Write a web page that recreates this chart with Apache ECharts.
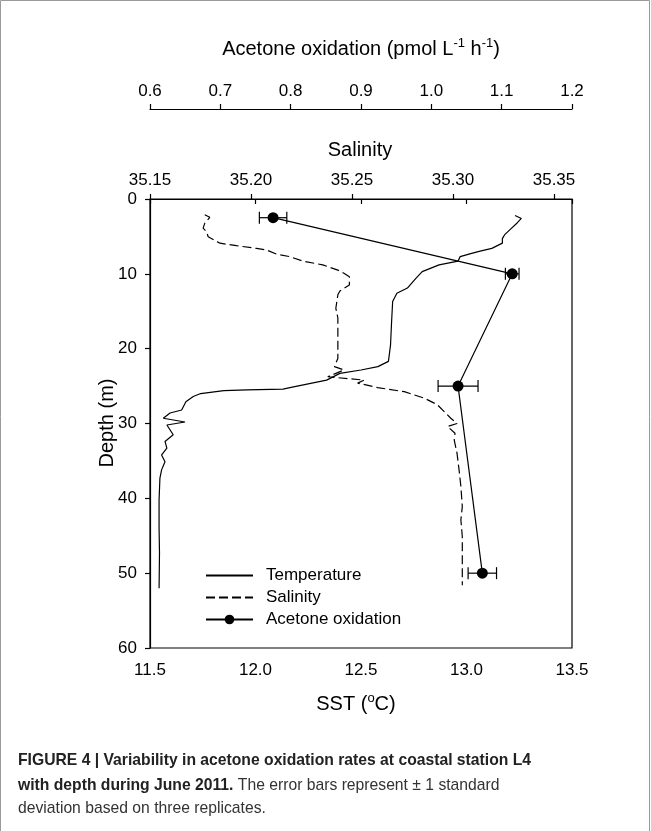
<!DOCTYPE html>
<html>
<head>
<meta charset="utf-8">
<script src="https://cdn.jsdelivr.net/npm/echarts@6/dist/echarts.min.js"></script>
<style>
html,body{margin:0;padding:0;background:#fff;}
#chart{width:651px;height:831px;}
</style>
</head>
<body>
<div id="chart"></div>
<script>
// ---- Data ----
const depthTicks = [0, 10, 20, 30, 40, 50, 60];
const sstTicks = [11.5, 12.0, 12.5, 13.0, 13.5];
const salinityTicks = [35.15, 35.20, 35.25, 35.30, 35.35];
const acetoneTicks = [0.6, 0.7, 0.8, 0.9, 1.0, 1.1, 1.2];

// Temperature profile: [SST (degC), depth (m)]
const temperatureProfile = [
  [13.23, 2.2], [13.26, 2.6], [13.24, 3.2], [13.21, 4.0], [13.18, 4.8], [13.17, 5.3], [13.17, 5.9],
  [13.12, 6.6], [13.06, 7.0], [13.02, 7.3], [12.97, 7.7], [12.96, 8.3], [12.87, 8.8], [12.79, 9.7],
  [12.76, 10.6], [12.72, 11.9], [12.67, 12.6], [12.65, 13.7], [12.645, 16.4], [12.64, 19.5],
  [12.63, 21.7], [12.58, 22.4], [12.50, 22.85], [12.40, 23.3], [12.337, 24.2], [12.18, 25.1],
  [12.13, 25.4], [11.96, 25.5], [11.85, 25.6], [11.74, 26.0], [11.705, 26.4], [11.67, 27.1],
  [11.65, 28.2], [11.595, 28.6], [11.563, 29.3], [11.666, 29.8], [11.58, 30.2], [11.61, 31.5],
  [11.571, 32.4], [11.58, 33.3], [11.555, 34.2], [11.571, 35.1], [11.555, 36.2], [11.547, 37.3],
  [11.543, 40.2], [11.543, 44.0], [11.545, 47.3], [11.543, 52.0]
];

// Salinity profile: [salinity, depth (m)]
const salinityProfile = [
  [35.1771, 2.1], [35.1796, 2.45], [35.1771, 3.25], [35.1763, 3.9], [35.178, 4.37], [35.1788, 5.04],
  [35.1846, 5.9], [35.1928, 6.24], [35.2027, 6.6], [35.2076, 6.8], [35.2125, 7.35], [35.2191, 7.7],
  [35.2257, 8.3], [35.2355, 8.8], [35.243, 9.5], [35.246, 9.93], [35.2487, 10.4], [35.2487, 11.5],
  [35.2440, 12.3], [35.243, 12.8], [35.2420, 14.6], [35.243, 15.9], [35.243, 18.6], [35.243, 21.3],
  [35.2413, 22.4], [35.246, 22.85], [35.238, 23.75], [35.256, 24.2], [35.2528, 24.6], [35.2627, 25.2],
  [35.2759, 25.75], [35.2857, 26.6], [35.2923, 27.5], [35.2989, 29.3], [35.302, 30.0], [35.2973, 30.4],
  [35.301, 31.3], [35.3006, 32.2], [35.302, 34.0], [35.303, 36.2], [35.3039, 38.4], [35.3046, 41.1],
  [35.3039, 42.9], [35.3046, 45.1], [35.3046, 49.6], [35.3046, 51.6]
];

// Acetone oxidation (pmol L-1 h-1)
const acetoneDepth = [2.5, 10, 25, 50];
const acetoneRate = [0.775, 1.115, 1.038, 1.0725];
const acetoneSD = [0.0195, 0.0097, 0.0284, 0.0202];

const legendNames = ['Temperature', 'Salinity', 'Acetone oxidation'];

const captionLine1 = 'FIGURE 4 | Variability in acetone oxidation rates at coastal station L4';
const captionLine2Bold = 'with depth during June 2011.';
const captionLine2 = ' The error bars represent \u00b1 1 standard';
const captionLine3 = 'deviation based on three replicates.';

// ---- Chart ----
const FONT = '"Liberation Sans", Arial, sans-serif';
const chart = echarts.init(document.getElementById('chart'), null, {renderer: 'canvas'});

const acetonePoints = acetoneDepth.map((d, i) => [acetoneRate[i], d]);
const acetoneErr = acetoneDepth.map((d, i) => [acetoneRate[i], d, acetoneSD[i]]);

// condensed caption: scale Liberation Sans horizontally
const CAP_SIZE = 17;
const mc = document.createElement('canvas').getContext('2d');
mc.font = 'bold ' + CAP_SIZE + 'px "Liberation Sans"';
const capScale = 513 / mc.measureText(captionLine1).width;

const lbl = {color: '#000', fontSize: 17, fontFamily: FONT};
const axLine = {show: true, lineStyle: {color: '#000', width: 1.2}};
const axTick = {show: true, length: 5, lineStyle: {color: '#000', width: 1.2}};
const TITLE = 20;

const option = {
  animation: false,
  backgroundColor: '#fff',
  grid: [
    {left: 150, top: 199, width: 422, height: 449, show: true, borderColor: '#000', borderWidth: 1.2, backgroundColor: 'transparent'},
    {left: 150, top: 199, width: 404, height: 449, show: false}
  ],
  xAxis: [
    {type: 'value', gridIndex: 0, position: 'bottom', min: sstTicks[0], max: sstTicks[sstTicks.length - 1], interval: 0.5,
     axisLine: axLine, axisTick: axTick, splitLine: {show: false},
     axisLabel: Object.assign({margin: 14, formatter: v => v.toFixed(1)}, lbl)},
    {type: 'value', gridIndex: 0, position: 'top', offset: 90, min: acetoneTicks[0], max: acetoneTicks[acetoneTicks.length - 1], interval: 0.1,
     axisLine: axLine, axisTick: axTick, splitLine: {show: false},
     axisLabel: Object.assign({margin: 9, formatter: v => v.toFixed(1)}, lbl)},
    {type: 'value', gridIndex: 1, position: 'top', min: salinityTicks[0], max: salinityTicks[salinityTicks.length - 1], interval: 0.05,
     axisLine: {show: false}, axisTick: axTick, splitLine: {show: false},
     axisLabel: Object.assign({margin: 10, formatter: v => v.toFixed(2)}, lbl)}
  ],
  yAxis: [
    {type: 'value', gridIndex: 0, inverse: true, min: depthTicks[0], max: depthTicks[depthTicks.length - 1], interval: 10,
     axisLine: axLine, axisTick: axTick, splitLine: {show: false},
     axisLabel: Object.assign({margin: 13}, lbl)},
    {type: 'value', gridIndex: 1, inverse: true, min: depthTicks[0], max: depthTicks[depthTicks.length - 1], show: false}
  ],
  legend: {
    orient: 'vertical', left: 205, top: 567, padding: 0, itemWidth: 47, itemHeight: 12, itemGap: 5,
    data: [
      {name: legendNames[0], itemStyle: {opacity: 0}},
      {name: legendNames[1], itemStyle: {opacity: 0}},
      {name: legendNames[2]}
    ],
    textStyle: {color: '#000', fontSize: 17, fontFamily: FONT, padding: [0, 0, 0, 8]},
    selectedMode: false
  },
  series: [
    {name: legendNames[0], type: 'line', xAxisIndex: 0, yAxisIndex: 0, data: temperatureProfile,
     symbol: 'none', lineStyle: {color: '#000', width: 1.2}, itemStyle: {color: '#000'}},
    {name: legendNames[1], type: 'line', xAxisIndex: 2, yAxisIndex: 1, data: salinityProfile,
     symbol: 'none', lineStyle: {color: '#000', width: 1.2, type: [9, 4]}, itemStyle: {color: '#000'}},
    {name: legendNames[2], type: 'line', xAxisIndex: 1, yAxisIndex: 0, data: acetonePoints,
     symbol: 'circle', symbolSize: 11, lineStyle: {color: '#000', width: 1.2}, itemStyle: {color: '#000'}, z: 5},
    {type: 'custom', xAxisIndex: 1, yAxisIndex: 0, data: acetoneErr, z: 4,
     encode: {x: 0, y: 1},
     renderItem: function (params, api) {
       const v = api.value(0), d = api.value(1), sd = api.value(2);
       const lo = api.coord([v - sd, d]);
       const hi = api.coord([v + sd, d]);
       const h = 6;
       const st = {stroke: '#000', lineWidth: 1.2};
       return {type: 'group', children: [
         {type: 'line', shape: {x1: lo[0], y1: lo[1], x2: hi[0], y2: hi[1]}, style: st},
         {type: 'line', shape: {x1: lo[0], y1: lo[1] - h, x2: lo[0], y2: lo[1] + h}, style: st},
         {type: 'line', shape: {x1: hi[0], y1: hi[1] - h, x2: hi[0], y2: hi[1] + h}, style: st}
       ]};
     }}
  ],
  graphic: [
    {type: 'rect', shape: {x: 0.5, y: 0.5, width: 649, height: 835}, style: {fill: 'none', stroke: '#9a9a9a', lineWidth: 1}, silent: true},
    {type: 'text', x: 361, y: 48, style: {
      text: '{n|Acetone oxidation (pmol L}{s|-1}{n| h}{s|-1}{n|)}',
      align: 'center', verticalAlign: 'middle',
      rich: {
        n: {fontSize: TITLE, fontFamily: FONT, fill: '#000', lineHeight: 22, verticalAlign: 'bottom'},
        s: {fontSize: 13, fontFamily: FONT, fill: '#000', lineHeight: 13, verticalAlign: 'top'}
      }}},
    {type: 'text', x: 360, y: 150, style: {text: 'Salinity', align: 'center', verticalAlign: 'middle', fontSize: TITLE, fontFamily: FONT, fill: '#000'}},
    {type: 'text', x: 356, y: 703, style: {
      text: '{n|SST (}{s|o}{n|C)}',
      align: 'center', verticalAlign: 'middle',
      rich: {
        n: {fontSize: TITLE, fontFamily: FONT, fill: '#000', lineHeight: 22, verticalAlign: 'bottom'},
        s: {fontSize: 13, fontFamily: FONT, fill: '#000', lineHeight: 13, verticalAlign: 'top'}
      }}},
    {type: 'text', x: 107, y: 423, rotation: Math.PI / 2, style: {text: 'Depth (m)', align: 'center', verticalAlign: 'middle', fontSize: TITLE, fontFamily: FONT, fill: '#000'}},
    {type: 'text', x: 18, y: 760, scaleX: capScale, style: {
      text: captionLine1, verticalAlign: 'middle',
      fontSize: CAP_SIZE, fontWeight: 'bold', fontFamily: '"Liberation Sans"', fill: '#222'}},
    {type: 'text', x: 18, y: 785, scaleX: capScale, style: {
      text: '{b|' + captionLine2Bold + '}{n|' + captionLine2 + '}',
      verticalAlign: 'middle',
      rich: {
        b: {fontSize: CAP_SIZE, fontWeight: 'bold', fontFamily: '"Liberation Sans"', fill: '#222'},
        n: {fontSize: CAP_SIZE, fontFamily: '"Liberation Sans"', fill: '#333'}
      }}},
    {type: 'text', x: 18, y: 808, scaleX: capScale, style: {
      text: captionLine3, verticalAlign: 'middle', fontSize: CAP_SIZE, fontFamily: '"Liberation Sans"', fill: '#333'}}
  ]
};
chart.setOption(option);
</script>
</body>
</html>
